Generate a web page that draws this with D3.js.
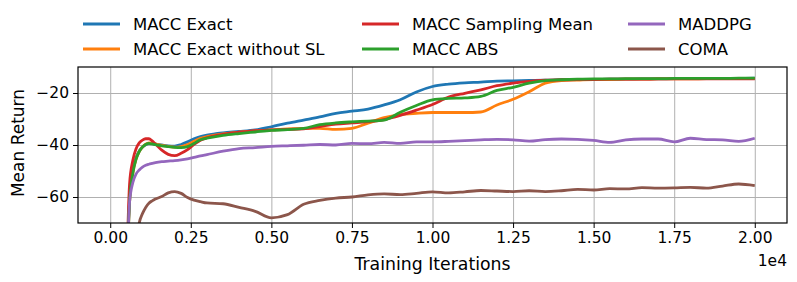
<!DOCTYPE html>
<html>
<head>
<meta charset="utf-8">
<script src="https://cdn.jsdelivr.net/npm/d3@7"></script>
<style>
  body { margin: 0; background: #fff; }
  text { font-family: "DejaVu Sans", sans-serif; fill: #000; }
  .grid line { stroke: #b0b0b0; stroke-width: 1; }
  .grid path { display: none; }
  .axis path { display: none; }
  .axis line { stroke: #000; stroke-width: 1; }
  .axis text { font-size: 15.5px; }
</style>
</head>
<body>
<div id="chart"></div>
<script>
const w = 797;
const h = 282;
const xL = 78, xR = 787, yT = 67, yB = 223;

// iterations shared by every series
const iters = [500,600,700,800,900,1000,1100,1200,1300,1400,1600,1800,2000,2200,2400,2600,2800,3000,
  3500,4000,4500,5000,5500,6000,6500,7000,7500,8000,8500,9000,9500,10000,10500,11000,11500,12000,
  12500,13000,13500,14000,14500,15000,15500,16000,16500,17000,17500,18000,18500,19000,19500,20000];

const maccExact = [-95,-60,-50,-45,-42.3,-40.8,-39.9,-39.5,-39.5,-39.7,-40.0,-40.3,-40.4,-39.8,-38.8,-37.6,-36.8,-36.2,
  -35.3,-34.8,-34.2,-33.0,-31.6,-30.4,-29.2,-27.8,-27.0,-26.2,-24.6,-22.6,-19.6,-17.5,-16.6,-16.1,-15.8,-15.4,
  -15.3,-15.2,-15.1,-14.9,-14.8,-14.8,-14.7,-14.7,-14.6,-14.6,-14.5,-14.5,-14.5,-14.4,-14.4,-14.3];
const maccNoSL = [-95,-62,-51,-45.5,-42.5,-40.8,-39.7,-39.2,-39.3,-39.6,-40.1,-40.5,-40.8,-40.6,-39.8,-38.6,-37.4,-36.8,
  -35.7,-35.1,-34.6,-34.2,-33.8,-33.6,-33.6,-34.0,-33.6,-31.6,-29.5,-28.3,-27.8,-27.5,-27.5,-27.5,-27.3,-24.6,
  -22.4,-19.5,-16.2,-15.2,-15.0,-14.8,-14.8,-14.7,-14.7,-14.6,-14.6,-14.6,-14.5,-14.5,-14.5,-14.5];
const maccSampling = [-95,-55,-46,-41.5,-39.2,-38.1,-37.6,-37.6,-38.4,-39.6,-42.0,-43.6,-44.1,-43.2,-41.8,-39.8,-38.2,-37.2,
  -35.9,-35.1,-34.5,-34.2,-34.0,-33.8,-32.9,-32.0,-31.5,-31.0,-30.2,-28.6,-26.6,-24.4,-21.6,-20.1,-18.8,-17.2,
  -16.2,-15.5,-15.1,-14.9,-14.8,-14.8,-14.7,-14.7,-14.7,-14.6,-14.6,-14.6,-14.6,-14.6,-14.6,-14.6];
const maccAbs = [-95,-62,-51,-45.5,-42.5,-40.8,-39.8,-39.4,-39.6,-39.9,-40.3,-40.6,-40.9,-41.0,-40.6,-39.4,-38.0,-37.4,
  -36.3,-35.6,-35.0,-34.4,-34.1,-33.6,-32.2,-31.5,-31.1,-30.8,-30.4,-27.4,-24.8,-22.6,-22.1,-21.9,-21.3,-19.0,
  -17.8,-16.2,-15.2,-14.9,-14.7,-14.6,-14.6,-14.5,-14.5,-14.5,-14.4,-14.4,-14.4,-14.4,-14.3,-14.3];
const maddpg = [-100,-62,-54.5,-51.2,-49.6,-48.5,-47.8,-47.4,-47.1,-46.8,-46.4,-46.2,-46.0,-45.7,-45.3,-44.8,-44.2,-43.7,
  -42.4,-41.4,-41.0,-40.5,-40.3,-40.1,-39.8,-40.0,-39.4,-39.5,-39.0,-39.4,-38.8,-38.8,-38.6,-38.3,-38.0,-37.8,
  -38.0,-38.5,-37.9,-37.7,-37.8,-38.2,-39.0,-38.0,-37.7,-37.7,-38.8,-37.4,-37.9,-38.0,-38.6,-37.4];
const coma = [-110,-100,-90,-79,-70,-66.4,-64.0,-62.4,-61.5,-60.8,-59.8,-58.4,-57.9,-58.6,-60.2,-61.2,-61.8,-62.3,
  -62.6,-64.0,-65.5,-68.0,-66.8,-62.8,-61.3,-60.4,-60.0,-59.2,-58.8,-59.1,-58.6,-58.0,-58.4,-58.0,-57.5,-57.7,
  -57.9,-57.6,-57.9,-57.6,-57.1,-57.3,-56.8,-56.9,-56.4,-56.6,-56.5,-56.3,-56.6,-55.8,-55.0,-55.6];

const names = ["MACC Exact","MACC Exact without SL","MACC Sampling Mean","MACC ABS","MADDPG","COMA"];
const colors = ["#1f77b4","#ff7f0e","#d62728","#2ca02c","#9467bd","#8c564b"];
const series = [maccExact, maccNoSL, maccSampling, maccAbs, maddpg, coma];

const xTicks = [0,2500,5000,7500,10000,12500,15000,17500,20000];
const yTicks = [-60,-40,-20];

const svg = d3.select("#chart").append("svg")
  .attr("width", w).attr("height", h);

const x = d3.scaleLinear().domain([-1000, 21000]).range([xL, xR]);
const y = d3.scaleLinear().domain([-70, -10]).range([yB, yT]);

//grid
svg.append("g").attr("class","grid")
  .attr("transform", `translate(0,${yB})`)
  .call(d3.axisBottom(x).tickValues(xTicks).tickSize(-(yB-yT)).tickFormat(""));
svg.append("g").attr("class","grid")
  .attr("transform", `translate(${xL},0)`)
  .call(d3.axisLeft(y).tickValues(yTicks).tickSize(-(xR-xL)).tickFormat(""));

//axes
svg.append("g").attr("class","axis")
  .attr("transform", `translate(0,${yB})`)
  .call(d3.axisBottom(x).tickValues(xTicks).tickSize(5).tickPadding(4)
    .tickFormat(d => (d/1e4).toFixed(2)));
svg.append("g").attr("class","axis")
  .attr("transform", `translate(${xL},0)`)
  .call(d3.axisLeft(y).tickValues(yTicks).tickSize(5).tickPadding(4));

//lines
svg.append("clipPath").attr("id","clip")
  .append("rect").attr("x",xL).attr("y",yT).attr("width",xR-xL).attr("height",yB-yT);

const line = d3.line()
  .x((d,i) => x(iters[i]))
  .y(d => y(d))
  .curve(d3.curveMonotoneX);

svg.append("g").attr("clip-path","url(#clip)")
  .selectAll("path")
  .data(series)
  .enter()
  .append("path")
  .attr("d", line)
  .attr("fill","none")
  .attr("stroke",(d,i) => colors[i])
  .attr("stroke-width",2.8)
  .attr("stroke-linejoin","round");

//frame
svg.append("rect")
  .attr("x",xL).attr("y",yT).attr("width",xR-xL).attr("height",yB-yT)
  .attr("fill","none").attr("stroke","#000").attr("stroke-width",1.2);

//labels
svg.append("text")
  .attr("x",(xL+xR)/2).attr("y",270)
  .attr("text-anchor","middle").style("font-size","17.3px")
  .text("Training Iterations");
svg.append("text")
  .attr("transform",`translate(24,${(yT+yB)/2 - 2}) rotate(-90)`)
  .attr("text-anchor","middle").style("font-size","17px")
  .text("Mean Return");
svg.append("text")
  .attr("x",xR).attr("y",266)
  .attr("text-anchor","end").style("font-size","15.5px")
  .text("1e4");

//legend, filled column by column
const legX = [83, 362, 628];
const legY = [24, 49];
const legend = svg.append("g").attr("id","legend");
names.forEach((n,i) => {
  const lx = legX[Math.floor(i/2)];
  const ly = legY[i%2];
  legend.append("line")
    .attr("x1",lx).attr("x2",lx+37).attr("y1",ly).attr("y2",ly)
    .attr("stroke",colors[i]).attr("stroke-width",2.8);
  legend.append("text")
    .attr("x",lx+50).attr("y",ly+6)
    .style("font-size","16.5px")
    .text(n);
});
</script>
</body>
</html>
